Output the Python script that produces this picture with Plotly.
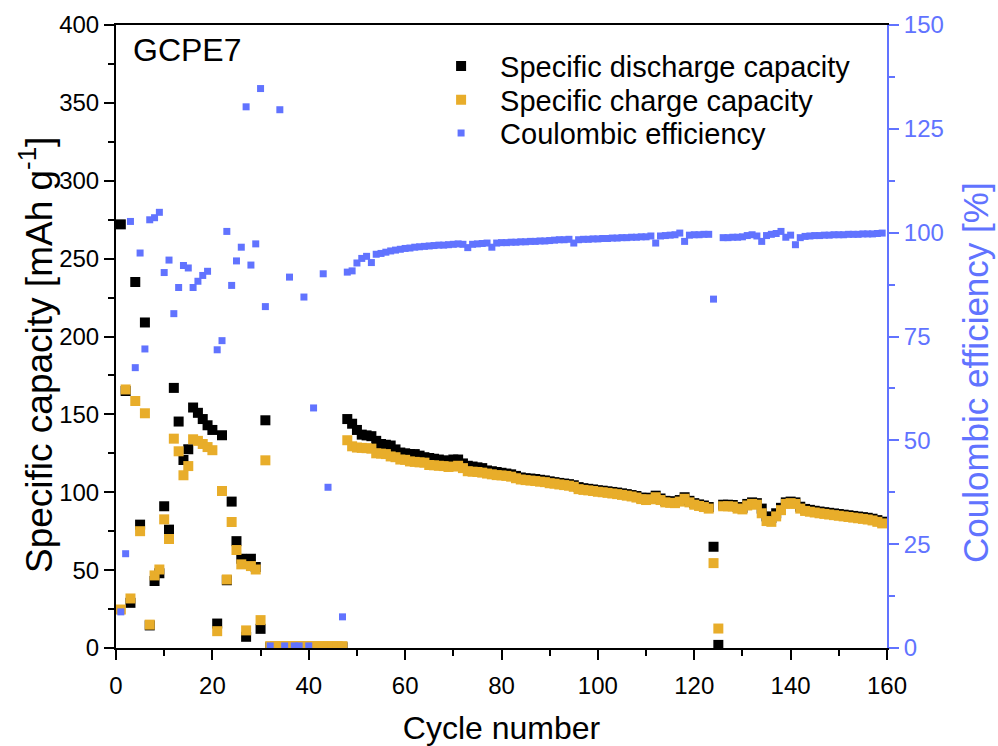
import plotly.graph_objects as go

# ---------------- data ----------------
cycles = list(range(1, 160))

discharge_1_31 = [272, 165, 29, 235, 79.2, 209, 14.5, 43, 48, 91, 76, 167, 145.4, 120.7, 127.6,
                  154.4, 151, 147, 143, 140, 15.7, 136.6, 43.5, 94, 68.6, 57.3, 7.2, 57.3, 52, 12.3, 146.2]
discharge_32_47 = [0.5] * 16
discharge_48_123 = [147, 144, 140, 137, 136.5, 136, 133, 131, 130.5, 130, 127.5, 125.5, 125, 124.5, 124.5,
                    123.5, 122.5, 122, 121.5, 121, 120.5, 120, 121, 121, 118.5, 117, 116.5, 116, 115.5, 114,
                    113.5, 113, 112.5, 112, 111.5, 110.5, 109.5, 109, 108.8, 108.5, 108, 107.6, 107, 106.5, 106,
                    105.6, 105.2, 104.5, 103.3, 102.6, 102.2, 101.8, 101.3, 101, 100.6, 100.2, 99.8, 99.3, 98.8, 98.2,
                    97.6, 96.6, 96, 96.5, 97.8, 96, 94.5, 94.2, 94, 95, 96.8, 94.5, 93, 92.2, 91.5, 90.5]
discharge_124_125 = [65, 2]
discharge_126_159 = [92, 92, 91.8, 90.5, 90, 92.5, 93.5, 93, 89.5, 84.5, 83.5, 86.5, 90, 93.5, 94, 93.5, 90.7,
                     89.3, 88.7, 88.1, 87.6, 87.2, 86.8, 86.4, 86, 85.6, 85.2, 84.8, 84.4, 84, 83.6, 83,
                     82.1, 81.1]

charge_1_31 = [24.7, 166, 31.8, 158.6, 75, 150.7, 15, 46.6, 50.4, 82.6, 70, 134.4, 126.3, 110.9, 116.8,
               134, 133, 131, 129, 127, 10.8, 100.8, 44, 80.9, 62.9, 53.7, 11.3, 52.6, 50.4, 17.9, 120.5]
charge_32_47 = [1.2] * 16
charge_48_123 = [133.4, 129.5, 128.7, 128.5, 128.3, 128, 125, 124.8, 124.5, 123, 122.5, 121, 120.8, 119.8, 119.5,
                 119.2, 119, 117.5, 117.3, 117, 116.8, 116.2, 116.5, 117, 115.5, 113.5, 113.2, 113, 112.6, 112,
                 111.5, 111, 110.8, 110.5, 110, 109, 108.2, 107.8, 107.5, 107.2, 106.8, 106.5, 105.8, 105.5, 105,
                 104.6, 104.2, 103.5, 102, 101.5, 101.2, 100.8, 100.3, 100, 99.6, 99.2, 98.8, 98.3, 97.8, 97.3,
                 96.6, 95.6, 95, 95.5, 96.8, 95, 93.5, 93.2, 93, 94, 95.8, 93.5, 92, 91.2, 90.5, 89.5]
charge_124_125 = [54.5, 12.5]
charge_126_159 = [91, 91, 90.8, 89.5, 89, 91.5, 92.5, 92, 86.5, 81.5, 81, 84.5, 88.5, 92.5, 93, 92.5, 89.5,
                  88, 87.5, 87, 86.5, 86.1, 85.7, 85.3, 84.9, 84.5, 84.1, 83.7, 83.3, 82.9, 82.5, 81.9,
                  81, 80]

ce_1_47 = [8.7, 22.7, 102.7, 67.5, 95.1, 72.0, 103.1, 103.6, 104.9, 90.4,
           93.4, 80.5, 86.8, 92.1, 91.5, 86.8, 88.3, 89.7, 90.7, None,
           71.8, 74.0, 100.3, 87.3, 93.2, 96.5, 130.3, 92.2, 97.3, 134.7,
           82.2, 0.5, None, 129.6, 0.5, 89.3, 0.5, 0.5, 84.5, 0.5,
           57.8, None, 90.1, 38.7, None, None, 7.5]
ce_48_123 = [90.5, 90.8, 92.7, 93.8, 94.3, 92.8, 94.8, 95.0, 95.3, 95.6, 95.8, 96.0, 96.2, 96.3, 96.5,
             96.6, 96.7, 96.8, 96.9, 97.0, 97.0, 97.1, 97.2, 97.3, 97.2, 96.4, 97.2, 97.3, 97.4, 97.5,
             96.5, 97.5, 97.6, 97.6, 97.7, 97.7, 97.8, 97.8, 97.9, 97.9, 98.0, 98.0, 98.1, 98.2, 98.3,
             98.3, 98.4, 97.5, 98.3, 98.4, 98.4, 98.5, 98.5, 98.6, 98.6, 98.7, 98.7, 98.8, 98.8, 98.9,
             98.9, 99.0, 99.0, 99.2, 97.5, 99.2, 99.3, 99.4, 99.5, 99.9, 97.9, 99.4, 99.5, 99.5, 99.6, 99.6]
ce_124_125 = [84, None]
ce_126_159 = [98.8, 98.8, 98.9, 98.9, 99.0, 99.3, 99.5, 99.2, 97.9, 99.3, 99.6, 99.8, 100.3, 98.9, 99.4,
              97.1, 98.8, 99.1, 99.2, 99.3, 99.3, 99.4, 99.4, 99.5, 99.5, 99.5, 99.6, 99.6, 99.6, 99.7,
              99.7, 99.7, 99.8, 99.9]

discharge = discharge_1_31 + discharge_32_47 + discharge_48_123 + discharge_124_125 + discharge_126_159
charge = charge_1_31 + charge_32_47 + charge_48_123 + charge_124_125 + charge_126_159
ce = ce_1_47 + ce_48_123 + ce_124_125 + ce_126_159

x_ticks = list(range(0, 161, 20))
y_ticks = list(range(0, 401, 50))
y2_ticks = list(range(0, 151, 25))

series_names = ["Specific discharge capacity", "Specific charge capacity", "Coulombic efficiency"]

# ---------------- styling ----------------
BLACK = "#000000"
ORANGE = "#E8AD2A"
BLUE = "#6173FF"
FONT = "Liberation Sans, Arial, sans-serif"

fig = go.Figure()
fig.add_trace(go.Scatter(x=cycles, y=discharge, mode="markers", name=series_names[0], legend="legend",
                         marker=dict(symbol="square", size=10, color=BLACK, line=dict(width=0))))
fig.add_trace(go.Scatter(x=cycles, y=charge, mode="markers", name=series_names[1], legend="legend2",
                         marker=dict(symbol="square", size=10, color=ORANGE, line=dict(width=0))))
fig.add_trace(go.Scatter(x=cycles, y=ce, mode="markers", name=series_names[2], yaxis="y2", legend="legend3",
                         marker=dict(symbol="square", size=7, color=BLUE, line=dict(width=0))))

def leg(ypaper):
    return dict(x=0.397, y=ypaper, xanchor="left", yanchor="middle", bgcolor="rgba(0,0,0,0)",
                font=dict(size=29, color=BLACK), itemsizing="trace", itemwidth=68)

fig.update_layout(
    width=998, height=746,
    margin=dict(l=116, r=111, t=25, b=98, autoexpand=False),
    paper_bgcolor="white", plot_bgcolor="white",
    font=dict(family=FONT, size=24, color=BLACK),
    showlegend=True,
    legend=leg(0.934), legend2=leg(0.8796), legend3=leg(0.8266),
    xaxis=dict(range=[0, 160], tickvals=x_ticks, ticks="outside", ticklen=10, tickwidth=2,
               tickcolor=BLACK, showline=True, linecolor=BLACK, linewidth=2, mirror=True,
               showgrid=False, zeroline=False, ticklabelstandoff=5, automargin=False,
               minor=dict(dtick=10, ticks="outside", ticklen=6, tickwidth=2, tickcolor=BLACK, showgrid=False),
               title=dict(text="Cycle number", font=dict(size=32), standoff=20),
               tickfont=dict(size=24)),
    yaxis=dict(range=[0, 400], tickvals=y_ticks, ticks="outside", ticklen=10, tickwidth=2,
               tickcolor=BLACK, showline=True, linecolor=BLACK, linewidth=2, mirror=False,
               showgrid=False, zeroline=False, automargin=False,
               minor=dict(dtick=25, ticks="outside", ticklen=6, tickwidth=2, tickcolor=BLACK, showgrid=False),
               tickfont=dict(size=24)),
    yaxis2=dict(range=[0, 150], tickvals=y2_ticks, overlaying="y", side="right", ticks="outside",
                ticklen=10, tickwidth=2, tickcolor=BLUE, showline=True, linecolor=BLUE, linewidth=2,
                showgrid=False, zeroline=False, automargin=False,
                minor=dict(dtick=12.5, ticks="outside", ticklen=6, tickwidth=2, tickcolor=BLUE, showgrid=False),
                tickfont=dict(size=24, color=BLUE)),
    annotations=[
        dict(text="GCPE7", x=0.02, y=0.96, xref="paper", yref="paper",
             xanchor="left", yanchor="middle", showarrow=False, font=dict(size=32, color=BLACK)),
        dict(text="Specific capacity [mAh g<sup>-1</sup>]", textangle=-90,
             x=36, y=355, xref="paper", yref="paper", showarrow=False,
             font=dict(size=37, color=BLACK)),
        dict(text="Coulombic efficiency [%]", textangle=-90,
             x=975, y=373, xref="paper", yref="paper", showarrow=False,
             font=dict(size=35, color=BLUE)),
    ],
)

# convert the two rotated titles' pixel anchors into paper coordinates
L, R, T, B, W, H = 116, 111, 25, 98, 998, 746
pw, ph = W - L - R, H - T - B
for ann in fig.layout.annotations[1:]:
    px, py = ann.x, ann.y
    ann.x = (px - L) / pw
    ann.y = (H - B - py) / ph
    ann.xanchor = "center"
    ann.yanchor = "middle"

fig.write_html("out.html")
